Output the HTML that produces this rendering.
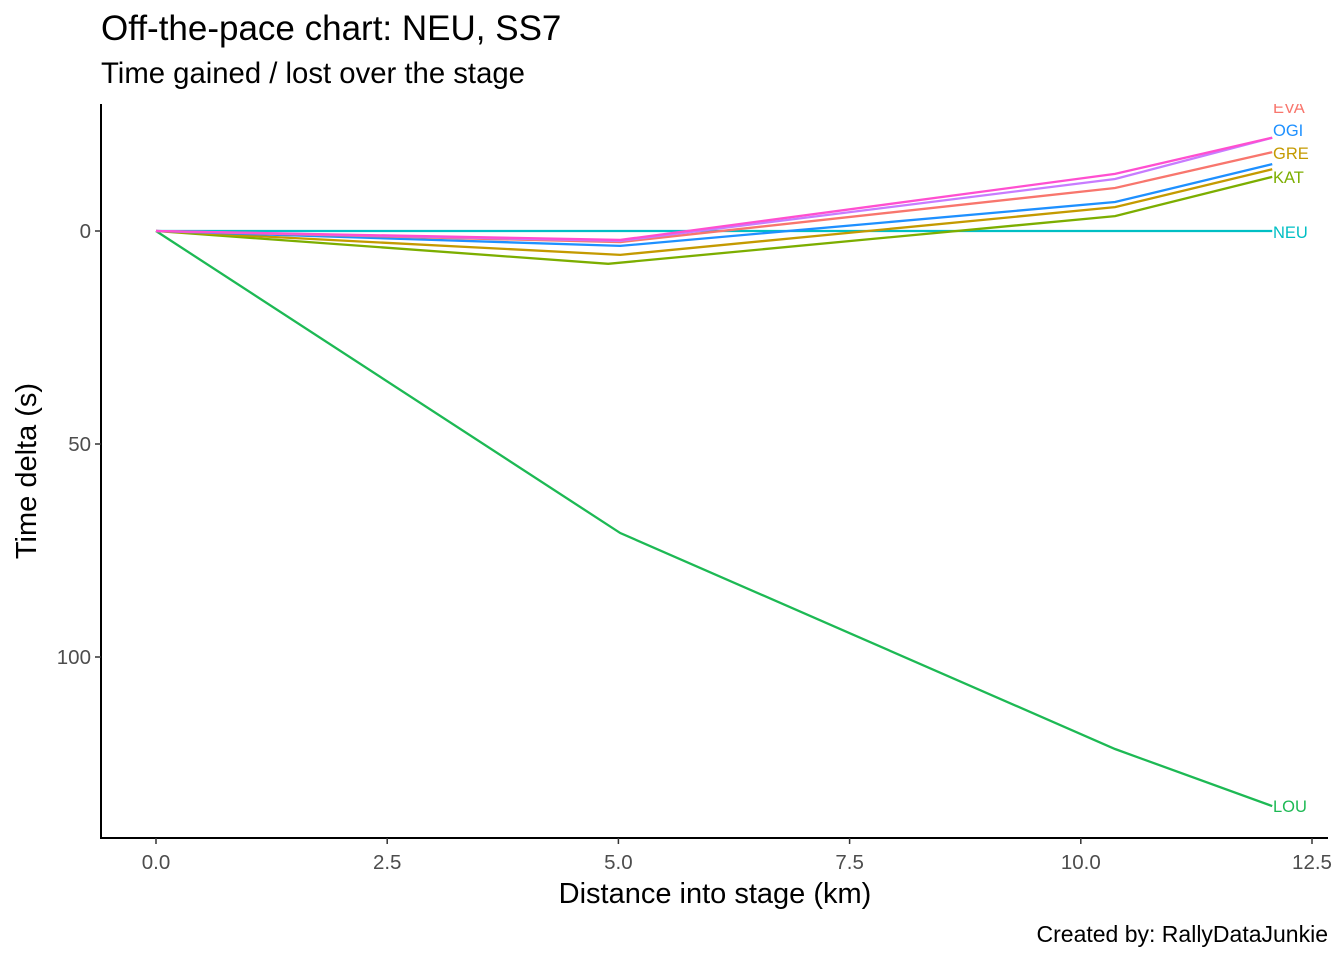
<!DOCTYPE html>
<html><head><meta charset="utf-8"><style>
body{margin:0;background:#fff;}
svg text{font-family:"Liberation Sans",Arial,sans-serif;}
</style></head><body>
<svg width="1344" height="960" viewBox="0 0 1344 960" xmlns="http://www.w3.org/2000/svg">
<defs><clipPath id="pc"><rect x="101" y="104" width="1240" height="734"/></clipPath></defs>
<text x="101" y="40" font-size="35" fill="#000">Off-the-pace chart: NEU, SS7</text>
<text x="101" y="83" font-size="29.3" fill="#000">Time gained / lost over the stage</text>
<g id="plot" clip-path="url(#pc)"></g>
<g id="axes"></g>
<text x="715" y="903" font-size="29" text-anchor="middle">Distance into stage (km)</text>
<text transform="translate(36,471) rotate(-90)" font-size="29" text-anchor="middle">Time delta (s)</text>
<text x="1328" y="942" font-size="23" text-anchor="end">Created by: RallyDataJunkie</text>
</svg>
<script>
const drivers=["LOU","KAT","GRE","OGI","EVA","XPU","XMG","NEU"];
const colors=["#1DB954","#7CAE00","#C49A00","#1E90FF","#F8766D","#C77CFF","#FF4FD0","#00BFC4"];
const distLOU=[0,5.02,10.37,12.07];const deltaLOU=[0,70.9,121.6,135];
const distKAT=[0,4.89,10.37,12.07];const deltaKAT=[0,7.7,-3.5,-12.7];
const distGRE=[0,5.02,10.37,12.07];const deltaGRE=[0,5.6,-5.6,-14.5];
const distOGI=[0,5.02,10.37,12.07];const deltaOGI=[0,3.5,-6.8,-15.7];
const distEVA=[0,5.02,10.37,12.07];const deltaEVA=[0,2.6,-10.1,-18.5];
const distXPU=[0,5.02,10.37,12.07];const deltaXPU=[0,2.3,-12.2,-21.9];
const distXMG=[0,5.02,10.37,12.07];const deltaXMG=[0,2.1,-13.4,-21.9];
const distNEU=[0,5.02,10.37,12.07];const deltaNEU=[0,0,0,0];
const xTicks=[0,2.5,5,7.5,10,12.5];const xTickLabels=["0.0","2.5","5.0","7.5","10.0","12.5"];
const yTicks=[0,50,100];const yTickLabels=["0","50","100"];
const labelNames=["EVA","OGI","GRE","KAT","NEU","LOU"];
const labelColors=["#F8766D","#1E90FF","#C49A00","#7CAE00","#00BFC4","#1DB954"];
const labelY=[113,136,159,183,238,812];
const series=[[distLOU,deltaLOU],[distKAT,deltaKAT],[distGRE,deltaGRE],[distOGI,deltaOGI],[distEVA,deltaEVA],[distXPU,deltaXPU],[distXMG,deltaXMG],[distNEU,deltaNEU]];
const X=v=>156+v*92.48, Y=v=>231+v*4.26;
const NS="http://www.w3.org/2000/svg";
const plot=document.getElementById('plot'), axes=document.getElementById('axes');
function mk(t,a,p){const e=document.createElementNS(NS,t);for(const k in a)e.setAttribute(k,a[k]);p.appendChild(e);return e;}
const order=[7,0,1,2,3,4,5,6];
order.forEach(i=>{const [d,v]=series[i];
 const e=mk('polyline',{points:d.map((x,j)=>X(x)+','+Y(v[j])).join(' '),fill:'none',stroke:colors[i],'stroke-width':2.3},plot);
 
 });
labelNames.forEach((n,i)=>{const t=mk('text',{x:1273,y:labelY[i],'font-size':16.5,fill:labelColors[i]},plot);t.textContent=n;
 
 });
const la=mk('line',{x1:101,y1:104,x2:101,y2:838,stroke:'#000','stroke-width':2},axes);


const lb=mk('line',{x1:100,y1:838,x2:1328,y2:838,stroke:'#000','stroke-width':2},axes);


xTicks.forEach((v,i)=>{mk('line',{x1:X(v),y1:838,x2:X(v),y2:844,stroke:'#333','stroke-width':1.5},axes);
 const t=mk('text',{x:X(v),y:869,'font-size':20.5,fill:'#4d4d4d','text-anchor':'middle'},axes);t.textContent=xTickLabels[i];
 
 });
yTicks.forEach((v,i)=>{mk('line',{x1:95,y1:Y(v),x2:101,y2:Y(v),stroke:'#333','stroke-width':1.5},axes);
 const t=mk('text',{x:91,y:Y(v)+7,'font-size':20.5,fill:'#4d4d4d','text-anchor':'end'},axes);t.textContent=yTickLabels[i];
 
 });
</script>
</body></html>
